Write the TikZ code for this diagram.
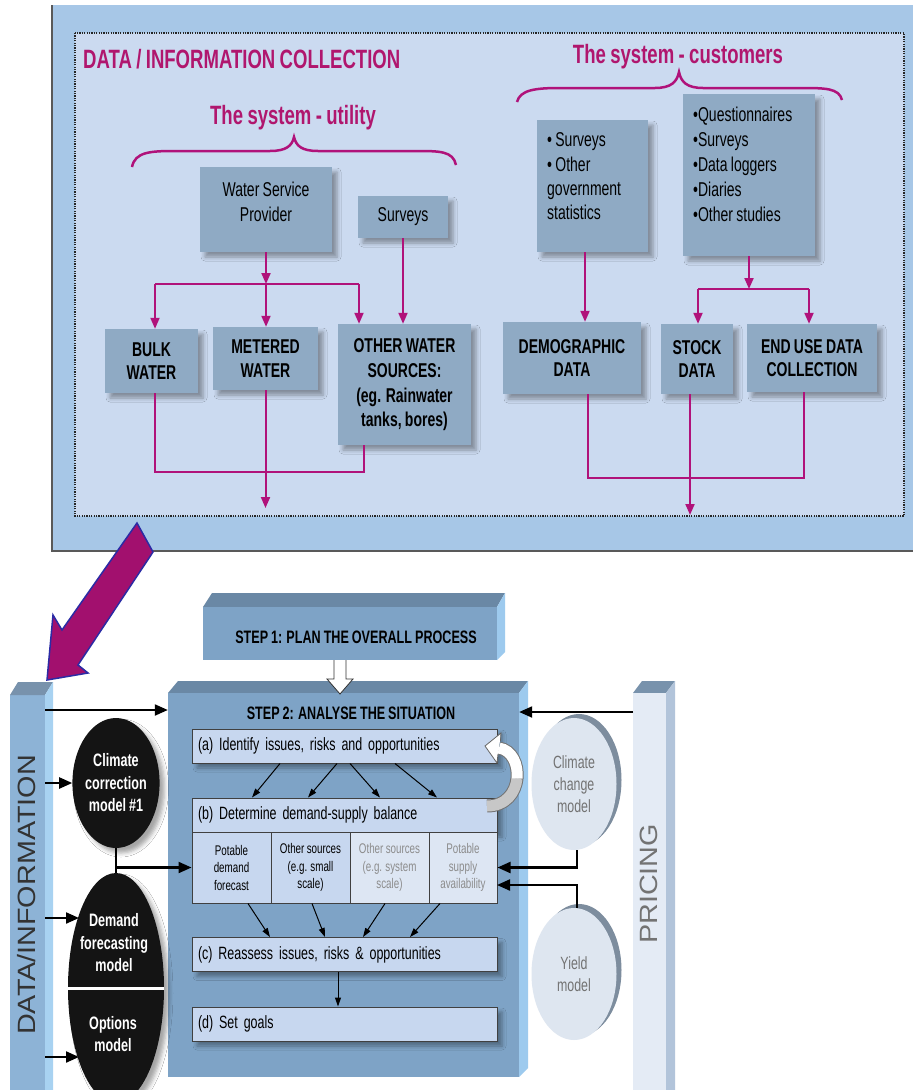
\documentclass[tikz,border=0pt]{standalone}
\usepackage{fontspec}
\setmainfont{Liberation Sans}
\newfontfamily\cond[FakeStretch=0.7,WordSpace=0.85]{Liberation Sans}
\newfontfamily\widesans[FakeStretch=1.15]{Liberation Sans}
\usetikzlibrary{shapes.geometric,arrows.meta,shadows.blur,calc}

\definecolor{panelout}{HTML}{A7C7E7}
\definecolor{panelin}{HTML}{CBDAF0}
\definecolor{topbox}{HTML}{8FAAC4}
\definecolor{magt}{HTML}{B0166E}
\definecolor{magl}{HTML}{B0127A}
\definecolor{stepfront}{HTML}{7EA3C6}
\definecolor{steptop}{HTML}{6A88A5}
\definecolor{stepside}{HTML}{9DCAEE}
\definecolor{innerbox}{HTML}{C7D7EF}
\definecolor{innerlight}{HTML}{DDE6F3}
\definecolor{barfront}{HTML}{8DB3D6}
\definecolor{barside}{HTML}{A8D2F1}
\definecolor{bartop}{HTML}{7892AC}
\definecolor{pricefront}{HTML}{E4EBF5}
\definecolor{priceside}{HTML}{B2C4DA}
\definecolor{ellight}{HTML}{DEE6F0}
\definecolor{elrim}{HTML}{7D8D9E}
\definecolor{arrowfill}{HTML}{A2106E}
\definecolor{arrowedge}{HTML}{2B2BA5}

\tikzset{
  softshadow/.style={blur shadow={shadow xshift=5pt,shadow yshift=-5pt,shadow blur radius=4pt,shadow opacity=35}},
  tbox/.style={fill=topbox, inner sep=0pt, softshadow},
  capslabel/.style={font=\cond\bfseries\fontsize{20}{23.5}\selectfont, align=center, inner sep=0pt},
  reglabel/.style={font=\cond\fontsize{20}{24.5}\selectfont, align=left, inner sep=0pt},
  heading/.style={font=\cond\bfseries\fontsize{26.5}{30}\selectfont, text=magt, inner sep=0pt},
  mline/.style={magl, line width=2pt},
  marrow/.style={mline, -{Triangle[width=9pt,length=11pt]}},
  bracepath/.style={magl, line width=2.5pt},
  steptitle/.style={font=\cond\bfseries\fontsize{18}{22}\selectfont, inner sep=0pt},
  ibox/.style={draw=black!75, line width=1pt, fill=innerbox, minimum height=34pt,
    text width=293pt, inner xsep=6pt, inner ysep=0pt, align=left,
    font=\cond\fontsize{17.8}{20}\selectfont, softshadow},
  col/.style={draw=black!75, line width=1pt, inner sep=0pt, minimum height=71pt,
    align=center, font=\cond\fontsize{14}{17.5}\selectfont},
  darkball/.style={ellipse, fill=black!92, inner sep=0pt, text=white, align=center,
    font=\cond\bfseries\fontsize{18}{22.5}\selectfont, softshadow},
  balltext/.style={text=white, align=center, inner sep=0pt,
    font=\cond\bfseries\fontsize{18}{22.5}\selectfont},
  lightball/.style={ellipse, fill=ellight, inner sep=0pt, text=black!55, align=center,
    font=\cond\fontsize{17.7}{22}\selectfont},
  barrow/.style={black, line width=2.2pt, -{Triangle[width=11pt,length=13pt]}},
  thinarrow/.style={black, line width=1pt, -{Triangle[width=6pt,length=9pt]}},
  bartext/.style={rotate=90, font=\widesans\fontsize{25}{25}\selectfont, inner sep=0pt}
}

\begin{document}
\begin{tikzpicture}[x=1pt,y=-1pt]
\useasboundingbox (0,0) rectangle (913,1090);
\clip (0,0) rectangle (913,1090);
\fill[white] (0,0) rectangle (913,1090);

% ---------- data / information collection panel ----------
\fill[panelout] (52,5) rectangle (915,551);
\draw[black!65, line width=1.5pt] (52,5) -- (52,551) -- (915,551);
\fill[panelin] (75,33) rectangle (904,516);
\draw[black!85, line width=1.2pt, dash pattern=on 1.2pt off 1.2pt] (75,33) rectangle (904,516);

\node[heading, anchor=west] (title) at (83,59) {DATA / INFORMATION COLLECTION};
\node[heading] (hutil) at (293,118) {The system - utility};
\node[heading] (hcust) at (678,57) {The system - customers};

% braces under the two headings
\draw[bracepath] (132,167) .. controls (135,152) and (150,151) .. (175,151) -- (270,151)
  .. controls (286,151) and (292,146) .. (294,137) .. controls (296,146) and (302,151) .. (318,151)
  -- (415,151) .. controls (440,151) and (453,151) .. (456,165);
\draw[bracepath] (517,102) .. controls (520,90) and (535,88) .. (560,88) -- (655,88)
  .. controls (671,88) and (677,82) .. (679,72) .. controls (681,82) and (687,88) .. (703,88)
  -- (800,88) .. controls (825,88) and (839,88) .. (842,100);

% utility side
\node[tbox, minimum width=132pt, minimum height=85pt] (wsp) at (266,209.5) {};
\node[reglabel, align=center] (wspt) at (266,202) {Water Service\\Provider};
\node[tbox, reglabel, minimum width=90pt, minimum height=42pt, align=center] (srv) at (403,217) {Surveys};
\node[tbox, capslabel, minimum width=93pt, minimum height=64pt] (bulk) at (151.5,361) {BULK\\WATER};
\node[tbox, capslabel, minimum width=105pt, minimum height=63pt] (meter) at (265.5,358.5) {METERED\\WATER};
\node[tbox, minimum width=133pt, minimum height=121pt] (other) at (404.5,384.5) {};
\node[capslabel, font=\cond\bfseries\fontsize{20}{24.7}\selectfont] (othert) at (404.5,385)
  {OTHER WATER\\SOURCES:\\(eg. Rainwater\\tanks, bores)};

\coordinate (uj) at (266,284);
\coordinate (ul) at (155,284);
\coordinate (ur) at (359,284);
\draw[marrow] (wsp.south) -- (uj);
\draw[mline] (ul) -- (ur);
\draw[marrow] (ul) -- (ul |- bulk.north);
\draw[marrow] (uj) -- (uj |- meter.north);
\draw[marrow] (ur) -- (ur |- other.north);
\draw[marrow] (srv.south) -- (srv.south |- other.north);

\coordinate (ubl) at (155,472);
\coordinate (ubr) at (364,472);
\coordinate (uout) at (265.5,508);
\draw[mline] (ubl |- bulk.south) -- (ubl) -- (ubr) -- (ubr |- other.south);
\draw[marrow] (meter.south) -- (uout);

% customer side
\node[tbox, minimum width=111pt, minimum height=132pt] (gov) at (592.5,186) {};
\node[reglabel, font=\cond\fontsize{20}{24.3}\selectfont, anchor=west] (govt) at (547,176.5)
  {• Surveys\\• Other\\government\\statistics};
\node[tbox, minimum width=132pt, minimum height=162pt] (quest) at (749,175) {};
\node[reglabel, font=\cond\fontsize{20}{25}\selectfont, anchor=west] (questt) at (693,164.5)
  {•Questionnaires\\•Surveys\\•Data loggers\\•Diaries\\•Other studies};
\node[tbox, capslabel, minimum width=138pt, minimum height=72pt] (demo) at (572,358) {DEMOGRAPHIC\\DATA};
\node[tbox, capslabel, minimum width=72pt, minimum height=70pt] (stock) at (697,359) {STOCK\\DATA};
\node[tbox, capslabel, minimum width=130pt, minimum height=68pt] (enduse) at (812,358) {END USE DATA\\COLLECTION};

\draw[marrow] ([xshift=-7.5pt]gov.south) -- ([xshift=-7.5pt]gov.south |- demo.north);
\coordinate (cj) at (749,289);
\coordinate (cl) at (698,289);
\coordinate (cr) at (809,289);
\draw[marrow] (quest.south) -- (cj);
\draw[mline] (cl) -- (cr);
\draw[marrow] (cl) -- (cl |- stock.north);
\draw[marrow] (cr) -- (cr |- enduse.north);

\coordinate (cbl) at (588,478);
\coordinate (cbr) at (804,478);
\coordinate (cout) at (690,515);
\draw[mline] (cbl |- demo.south) -- (cbl) -- (cbr) -- (cbr |- enduse.south);
\draw[marrow] (cout |- stock.south) -- (cout);

% ---------- DATA/INFORMATION bar ----------
\fill[barfront] (10,695) rectangle (45,1095);
\fill[bartop] (10,695) -- (18,682) -- (53,682) -- (45,695) -- cycle;
\fill[barside] (45,695) -- (53,682) -- (53,1095) -- (45,1095) -- cycle;
\node[bartext, text=black!80] (datainfo) at (27,895) {DATA/INFORMATION};

% big arrow from the collection panel to the bar
\draw[arrowedge, line width=1.5pt, fill=arrowfill, line join=miter]
  (137,523) -- (62,630) -- (53,615) -- (47,680) -- (88,673) -- (78,665) -- (153,552) -- cycle;

% ---------- PRICING bar ----------
\fill[bartop] (633,693) -- (642,681) -- (675,681) -- (666,693) -- cycle;
\fill[priceside] (666,693) -- (675,681) -- (675,1095) -- (666,1095) -- cycle;
\fill[pricefront] (633,693) rectangle (666,1095);
\node[bartext, text=black!55] (pricing) at (649,884) {PRICING};

% ---------- step 1 ----------
\fill[steptop] (203,607) -- (212,593) -- (505,593) -- (497,607) -- cycle;
\fill[stepside] (497,607) -- (505,593) -- (505,652) -- (497,660) -- cycle;
\node[fill=stepfront, minimum width=294pt, minimum height=53pt, inner sep=0pt] (s1) at (350,633.5) {};
\node[steptitle] (s1t) at (356,637) {STEP 1: PLAN THE OVERALL PROCESS};

% ---------- step 2 ----------
\fill[steptop] (168,693) -- (178,681) -- (528,681) -- (519,693) -- cycle;
\fill[stepside] (519,693) -- (528,681) -- (528,1068) -- (519,1077) -- cycle;
\node[fill=stepfront, minimum width=351pt, minimum height=384pt, inner sep=0pt] (s2) at (343.5,885) {};
\node[steptitle] (s2t) at (351,713) {STEP 2: ANALYSE THE SITUATION};

% hollow arrow from step 1 into step 2
\draw[black!80, fill=white, line width=0.8pt, line join=miter]
  (334,660) -- (334,679) -- (327,679) -- (340,694) -- (353,679) -- (346,679) -- (346,660);

% inner boxes of step 2 (labels boxed so the word spaces keep their width)
\node[ibox] (ba) at (344.5,746) {\mbox{(a) Identify issues, risks and opportunities}};
\node[ibox] (bb) at (344.5,815) {\mbox{(b) Determine demand-supply balance}};
\node[col, fill=innerbox, minimum width=79pt] (c1) at (231.5,867.5) {Potable\\demand\\forecast};
\node[col, fill=innerbox, minimum width=79pt] (c2) at (310.5,867.5) {Other sources\\(e.g. small\\scale)};
\node[col, fill=innerlight, text=black!45, minimum width=79pt] (c3) at (389.5,867.5) {Other sources\\(e.g. system\\scale)};
\node[col, fill=innerlight, text=black!45, minimum width=68pt] (c4) at (463,867.5) {Potable\\supply\\availability};
\node[ibox] (bc) at (344.5,954.5) {\mbox{(c) Reassess issues, risks \& opportunities}};
\node[ibox] (bd) at (344.5,1024) {\mbox{(d) Set goals}};

% (a) fans out to (b)
\draw[thinarrow] ([xshift=-64.5pt]ba.south) -- ([xshift=-92.5pt]bb.north);
\draw[thinarrow] ([xshift=-7.5pt]ba.south) -- ([xshift=-36.5pt]bb.north);
\draw[thinarrow] ([xshift=5.5pt]ba.south) -- ([xshift=35.5pt]bb.north);
\draw[thinarrow] ([xshift=50.5pt]ba.south) -- ([xshift=92.5pt]bb.north);
% balance columns feed (c)
\draw[thinarrow] ([xshift=16.5pt]c1.south) -- ([xshift=-74.5pt]bc.north);
\draw[thinarrow] ([xshift=1.5pt]c2.south) -- ([xshift=-19.5pt]bc.north);
\draw[thinarrow] ([xshift=-4.5pt]c3.south) -- ([xshift=18.5pt]bc.north);
\draw[thinarrow] ([xshift=-23pt]c4.south) -- ([xshift=65.5pt]bc.north);
\draw[thinarrow] ([xshift=-6.5pt]bc.south) -- ([xshift=-6.5pt]bd.north);

% curved return arrow from (b) back to (a)
\draw[black!55, line width=13pt] (487,806) .. controls (525,806) and (525,752) .. (499,748);
\draw[black!22, line width=11pt] (487,806) .. controls (506,806) and (515.5,792.5) .. (517,778.5);
\draw[white, line width=11pt] (517,778.5) .. controls (518.5,764.5) and (512,750) .. (499,748);
\fill[white] (501,733) -- (485,746) -- (497,763) -- cycle;
\draw[black!60, line width=0.8pt, line join=miter] (500.5,741) -- (501,733) -- (485,746) -- (497,763) -- (498,754);

% ---------- left models ----------
\node[darkball, minimum width=84pt, minimum height=130pt] (ccm1) at (116,783) {Climate\\correction\\model \#1};
\node[darkball, minimum width=96pt, minimum height=230pt] (dfm) at (116,988) {};
\draw[white, line width=3pt] (dfm.west) -- (dfm.east);
\node[balltext] (dft) at (114,943) {Demand\\forecasting\\model};
\node[balltext] (opt) at (113,1034) {Options\\model};

\coordinate (dl1) at (45,710);
\coordinate (dl2) at (45,783);
\coordinate (dl3) at (45,918);
\coordinate (dt3) at (79,918);
\coordinate (dl4) at (45,1057);
\coordinate (dt4) at (79,1057);
\draw[barrow] (dl1) -- (dl1 -| s2.west);
\draw[barrow] (dl2) -- (ccm1.west);
\draw[barrow] (dl3) -- (dt3);
\draw[barrow] (dl4) -- (dt4);
\draw[black, line width=2.2pt] (ccm1.south) -- (dfm.north);
\draw[barrow] (ccm1.south |- c1.west) -- (c1.west);

% ---------- right models ----------
\fill[elrim] (579,780) ellipse (42.5 and 66);
\node[lightball, minimum width=85pt, minimum height=132pt] (ccm) at (574,784) {Climate\\change\\model};
\fill[elrim] (579,970) ellipse (42.5 and 66);
\node[lightball, minimum width=85pt, minimum height=132pt] (yld) at (574,974) {Yield\\model};

\coordinate (pr) at (633,712);
\coordinate (yin) at (497,885);
\draw[barrow] (pr) -- (pr -| s2.east);
\draw[barrow] ([xshift=3pt]ccm.south) |- (c4.east);
\draw[barrow] ([xshift=3pt]yld.north) |- (yin);

\end{tikzpicture}
\end{document}
